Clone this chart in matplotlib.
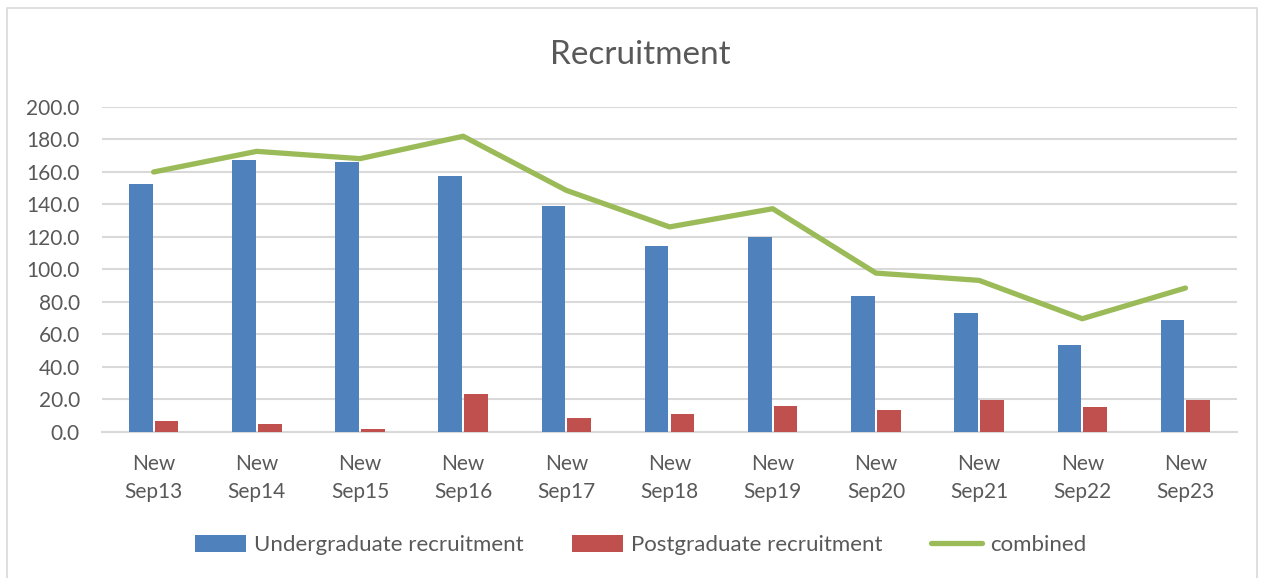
import numpy as np
import matplotlib
matplotlib.use("Agg")
from matplotlib import pyplot as plt
from matplotlib.patches import Rectangle

# data
categories = ["New\nSep13", "New\nSep14", "New\nSep15", "New\nSep16", "New\nSep17", "New\nSep18",
              "New\nSep19", "New\nSep20", "New\nSep21", "New\nSep22", "New\nSep23"]
undergrad = [152.6, 167.2, 166.0, 157.3, 138.9, 114.7, 120.0, 83.7, 73.2, 53.5, 68.7]
postgrad = [7.0, 5.1, 1.6, 23.4, 8.8, 10.9, 16.2, 13.5, 19.5, 15.6, 19.5]
combined = [160.0, 172.7, 168.2, 182.0, 148.7, 126.2, 137.4, 97.8, 93.3, 69.7, 88.6]
yticks = [0, 20, 40, 60, 80, 100, 120, 140, 160, 180, 200]

plt.rcParams['font.family'] = ['Lato', 'DejaVu Sans']
txt = '#595959'
grid = '#d9d9d9'

fig = plt.figure(figsize=(12.61, 5.78), dpi=100)
ax = fig.add_axes([0.0809, 0.2526, 0.9001, 0.5623])

x = np.arange(len(categories))
w = 0.23
b1 = ax.bar(x - 0.125, undergrad, w, color='#4F81BD', label='Undergraduate recruitment', zorder=3)
b2 = ax.bar(x + 0.125, postgrad, w, color='#C0504D', label='Postgraduate recruitment', zorder=3)
l1, = ax.plot(x, combined, color='#9BBB59', lw=3.8, label='combined', zorder=4, solid_capstyle='round')

ax.set_xlim(-0.5, len(categories) - 0.5)
ax.set_ylim(0, 200)
ax.set_yticks(yticks)
ax.set_yticklabels(["%.1f" % v for v in yticks])
ax.set_xticks(x)
ax.set_xticklabels(categories, linespacing=1.5)
ax.yaxis.grid(True, color=grid, lw=1.5, zorder=0)
ax.set_axisbelow(True)
for s in ['top', 'right', 'left']:
    ax.spines[s].set_visible(False)
ax.spines['bottom'].set_color(grid)
ax.spines['bottom'].set_linewidth(1.5)
ax.tick_params(axis='both', length=0, labelsize=15, colors=txt)
ax.tick_params(axis='y', pad=16)
ax.tick_params(axis='x', pad=16)

fig.text(0.508, 0.905, "Recruitment", ha='center', va='center', fontsize=24, color=txt)

leg = fig.legend([b1, b2, l1], ['Undergraduate recruitment', 'Postgraduate recruitment', 'combined'],
                 loc='center', bbox_to_anchor=(0.508, 0.057), ncol=3, frameon=False,
                 fontsize=16, handlelength=2.3, handleheight=0.8, columnspacing=2.2,
                 handletextpad=0.35)
for t in leg.get_texts():
    t.set_color(txt)

fig.patches.append(Rectangle((0.0055, -0.01), 0.9915, 0.996, transform=fig.transFigure,
                             fill=False, edgecolor=grid, lw=1.2))

fig.savefig("out.png", dpi=100)
